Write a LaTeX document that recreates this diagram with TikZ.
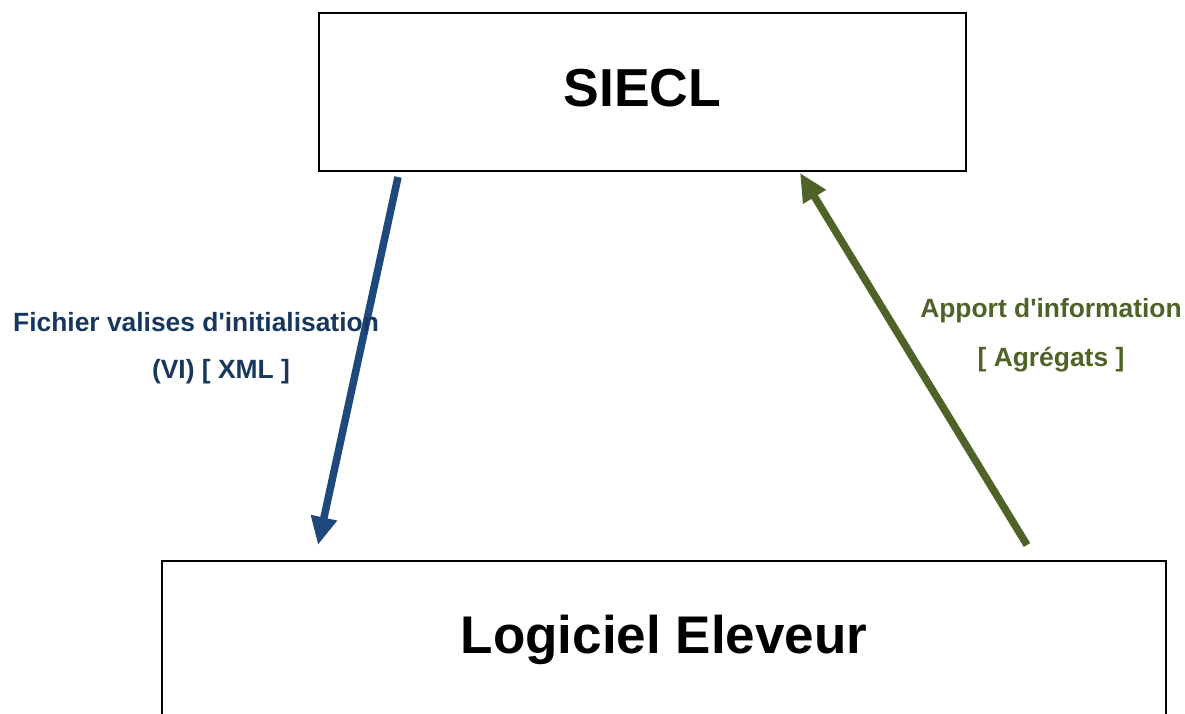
\documentclass[tikz,border=0pt]{standalone}
\usepackage{fontspec}
\setmainfont{Liberation Sans}
\usetikzlibrary{arrows.meta,calc}
\definecolor{arrblue}{HTML}{1F497D}
\definecolor{txtblue}{HTML}{17375E}
\definecolor{arrgreen}{HTML}{4F6228}
\begin{document}
\begin{tikzpicture}[x=1pt,y=-1pt,
  box/.style={draw=black, line width=2pt, fill=white, inner sep=0pt, font=\bfseries},
  flow/.style={line width=7.5pt, -{Triangle[length=28pt,width=25pt]}},
  lbl/.style={font=\bfseries\fontsize{26.4}{30}\selectfont, inner sep=0pt, anchor=base}]
\useasboundingbox (0,0) rectangle (1185,713);
\clip (0,0) rectangle (1185,713);
\node[box, anchor=north west, minimum width=647pt, text height=93pt, text depth=65pt,
  font=\bfseries\fontsize{53.5}{60}\selectfont] (siecl) at (318,12) {SIECL};
\node[box, anchor=north west, minimum width=1004pt, text height=92pt, text depth=200pt,
  font=\bfseries\fontsize{53}{60}\selectfont] (eleveur) at (161,560) {Logiciel Eleveur};
\coordinate (b1) at ($(siecl.south west)+(80,5)$);
\coordinate (b2) at ($(eleveur.north west)+(157,-15)$);
\coordinate (g1) at ($(eleveur.north west)+(866,-15)$);
\coordinate (g2) at ($(siecl.south west)+(482,1)$);
\draw[flow, arrblue] (b1) -- (b2);
\draw[flow, arrgreen] (g1) -- (g2);
\node[lbl, text=txtblue] (l1a) at (196,331) {Fichier valises d\textquotesingle initialisation};
\node[lbl, text=txtblue] (l1b) at (221,378) {(VI) [ XML ]};
\node[lbl, text=arrgreen] (l2a) at (1051,317) {Apport d\textquotesingle information};
\node[lbl, text=arrgreen] (l2b) at (1051,366) {[ Agrégats ]};
\end{tikzpicture}
\end{document}
